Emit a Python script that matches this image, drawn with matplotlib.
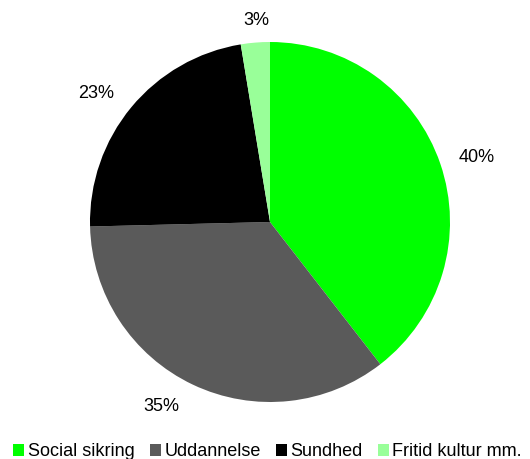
import matplotlib

matplotlib.use("Agg")
import matplotlib.pyplot as plt
import numpy as np
from matplotlib.patches import Patch

categories = ["Social sikring", "Uddannelse", "Sundhed", "Fritid kultur mm."]
shares = [39.5, 35.1, 22.8, 2.6]
colors = ["#00ff00", "#5a5a5a", "#000000", "#99ff99"]

# label placement (radius in pie radii, angle shift in degrees)
label_r = [1.2, 1.19, 1.2, 1.12]
label_shift = [-1.6, -5.2, 3.2, -0.9]

plt.rcParams["font.family"] = ["Liberation Sans", "DejaVu Sans"]

fig = plt.figure(figsize=(5.3, 4.59), dpi=100)
ax = fig.add_axes([90 / 530, 57 / 459, 360 / 530, 360 / 459])

wedges, texts, autotexts = ax.pie(
    shares, colors=colors, startangle=90, counterclock=False,
    autopct="%.0f%%", pctdistance=1.2,
    wedgeprops={"linewidth": 0},
    textprops={"fontsize": 13, "color": "black"},
)
ax.set_xlim(-1, 1)
ax.set_ylim(-1, 1)
ax.set_aspect("equal")

for w, t, r, s in zip(wedges, autotexts, label_r, label_shift):
    mid = np.deg2rad((w.theta1 + w.theta2) / 2 + s)
    t.set_position((r * np.cos(mid), r * np.sin(mid)))
    t.set_clip_on(False)

handles = [Patch(facecolor=c, edgecolor="none") for c in colors]
fig.legend(handles, categories, loc="center", bbox_to_anchor=(0.505, 7 / 459),
           ncol=4, frameon=False, fontsize=13, handlelength=0.6,
           handleheight=0.6, handletextpad=0.2, columnspacing=0.85,
           borderpad=0, borderaxespad=0)

fig.savefig("out.png", dpi=100)
